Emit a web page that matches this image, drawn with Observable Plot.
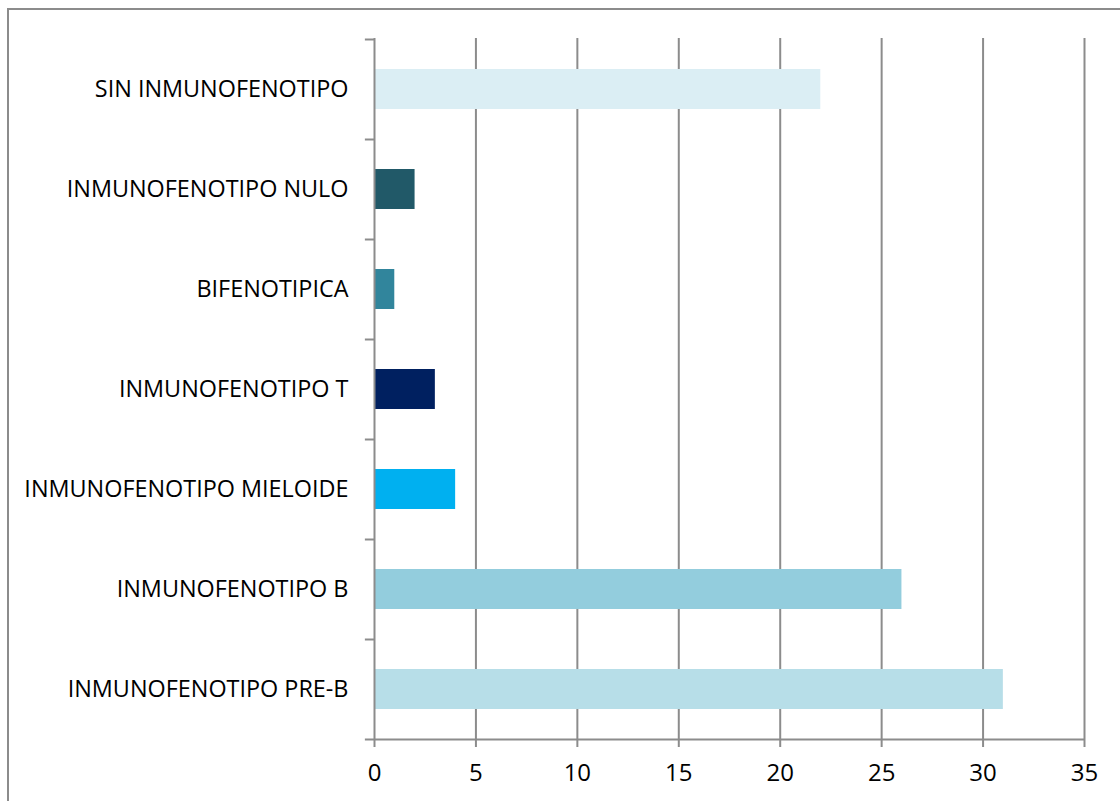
<!DOCTYPE html>
<html>
<head>
<meta charset="utf-8">
<script src="https://cdn.jsdelivr.net/npm/d3@7"></script>
<script src="https://cdn.jsdelivr.net/npm/@observablehq/plot@0.6"></script>
<style>
  html, body { margin: 0; padding: 0; background: #fff; }
  #wrap { position: relative; width: 1120px; height: 801px; overflow: hidden; }
  #frame { position: absolute; left: 7px; top: 8px; width: 1200px; height: 900px;
           border: 2px solid #8c8c8c; box-sizing: border-box; }
  #chart { position: absolute; left: 0; top: 0; }
  #chart svg { font-family: "Open Sans", sans-serif; }
</style>
</head>
<body>
<div id="wrap"><div id="frame"></div><div id="chart"></div></div>
<script>
// Immunophenotype categories, listed top to bottom
const categories = [
  "SIN INMUNOFENOTIPO",
  "INMUNOFENOTIPO NULO",
  "BIFENOTIPICA",
  "INMUNOFENOTIPO T",
  "INMUNOFENOTIPO MIELOIDE",
  "INMUNOFENOTIPO B",
  "INMUNOFENOTIPO PRE-B"
];
const counts = [22, 2, 1, 3, 4, 26, 31];
const barColors = ["#dbeef4", "#215968", "#31859c", "#002060", "#00b0f0", "#93cddd", "#b7dee8"];
const xTicks = [0, 5, 10, 15, 20, 25, 30, 35];

const data = categories.map((c, i) => ({category: c, value: counts[i], color: barColors[i]}));
const gridGray = "#8c8c8c";

const chart = Plot.plot({
  width: 1120,
  height: 801,
  marginLeft: 374,
  marginRight: 36,
  marginTop: 38,
  marginBottom: 62,
  style: {color: "#000", background: "transparent"},
  x: {domain: [0, 35], ticks: xTicks, label: null},
  y: {domain: categories, paddingInner: 0.6, paddingOuter: 0.3, label: null},
  marks: [
    // vertical gridlines
    Plot.ruleX(xTicks.slice(1), {stroke: gridGray, strokeWidth: 2}),
    Plot.barX(data, {y: "category", x: "value", fill: "color"}),
    // category axis line and boundary ticks
    Plot.ruleX([0], {stroke: gridGray, strokeWidth: 2}),
    Plot.ruleY(categories, {y: d => d, x1: -0.45, x2: 0, dy: -50, stroke: gridGray, strokeWidth: 2}),
    // value axis line
    Plot.ruleY([categories[categories.length - 1]], {x1: -0.45, x2: 35, dy: 50, stroke: gridGray, strokeWidth: 2}),
    Plot.axisX({ticks: xTicks, label: null, tickSize: 8, tickPadding: 16, stroke: gridGray, strokeWidth: 2, strokeOpacity: 1, fill: "#000", fontSize: 24}),
    Plot.axisY({label: null, tickSize: 0, tickPadding: 26, fill: "#000", fontSize: 23.4})
  ]
});
document.getElementById("chart").append(chart);
</script>
</body>
</html>
